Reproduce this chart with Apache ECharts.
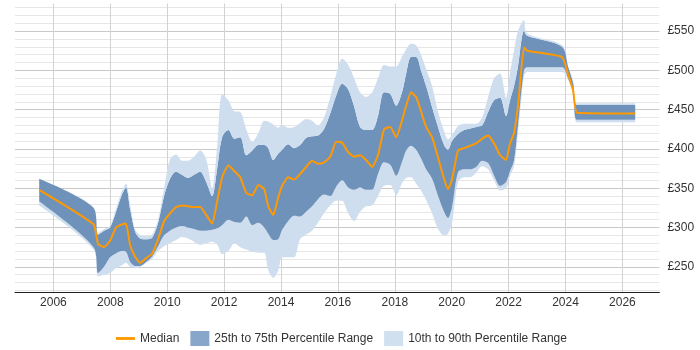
<!DOCTYPE html>
<html>
<head>
<meta charset="utf-8">
<script src="https://cdn.jsdelivr.net/npm/echarts@6/dist/echarts.min.js"></script>
<style>
  html, body { margin: 0; padding: 0; background: #fff; }
  #chart { width: 700px; height: 350px; }
</style>
</head>
<body>
<div id="chart"></div>
<script>
// sample dates (decimal years) and percentile values
const years = [2005.50, 2007.41, 2007.57, 2007.78, 2007.99, 2008.20, 2008.41, 2008.55, 2008.70, 2008.87,
  2009.05, 2009.26, 2009.47, 2009.68, 2009.89, 2010.10, 2010.31, 2010.52, 2010.73, 2010.94,
  2011.16, 2011.37, 2011.58, 2011.76, 2011.93, 2012.15, 2012.36, 2012.57, 2012.78, 2012.99,
  2013.20, 2013.41, 2013.55, 2013.73, 2013.90, 2014.04, 2014.25, 2014.46, 2014.67, 2014.88,
  2015.09, 2015.30, 2015.51, 2015.73, 2015.94, 2016.15, 2016.36, 2016.57, 2016.78, 2016.99,
  2017.20, 2017.41, 2017.62, 2017.84, 2018.05, 2018.26, 2018.40, 2018.57, 2018.75, 2018.92,
  2019.10, 2019.31, 2019.52, 2019.73, 2019.87, 2020.01, 2020.22, 2020.44, 2020.65, 2020.86,
  2021.07, 2021.28, 2021.49, 2021.70, 2021.91, 2022.05, 2022.19, 2022.33, 2022.54, 2022.65,
  2023.88, 2024.09, 2024.27, 2024.41, 2026.45]

const median = [348, 304, 279, 275, 283, 300, 304, 305, 277, 263,
  255, 261, 267, 285, 308, 318, 326, 328, 327, 326,
  326, 316, 305, 334, 364, 379, 372, 364, 344, 341,
  354, 349, 327, 316, 338, 353, 364, 361, 368, 377,
  385, 381, 383, 390, 409, 408, 396, 390, 392, 386,
  377, 392, 425, 428, 415, 437, 455, 472, 466, 448,
  428, 415, 389, 362, 349, 361, 398, 401, 404, 407,
  413, 417, 407, 392, 386, 407, 420, 455, 529, 525,
  517, 495, 474, 446, 445]

const p10 = [328, 272, 238, 240, 242, 248, 252, 255, 250, 248,
  250, 255, 260, 270, 276, 280, 284, 288, 286, 282,
  278, 280, 282, 278, 266, 270, 280, 275, 272, 269,
  268, 268, 246, 236, 245, 262, 262, 262, 285, 291,
  296, 306, 318, 328, 334, 334, 318, 308, 320, 327,
  328, 340, 353, 354, 341, 357, 363, 364, 356, 347,
  335, 318, 298, 290, 292, 305, 358, 364, 364, 370,
  378, 374, 360, 347, 350, 366, 378, 420, 493, 498,
  498, 488, 469, 434, 434]

const p25 = [333, 275, 242, 250, 262, 267, 270, 269, 256, 251,
  251, 256, 263, 276, 290, 296, 300, 302, 300, 298,
  296, 296, 297, 299, 303, 310, 307, 306, 314, 303,
  306, 300, 292, 284, 285, 297, 308, 315, 314, 320,
  327, 336, 342, 340, 352, 360, 351, 348, 351, 348,
  348, 368, 383, 380, 366, 384, 398, 404, 399, 388,
  374, 362, 340, 320, 312, 326, 370, 374, 374, 377,
  385, 382, 366, 353, 358, 372, 385, 430, 500, 504,
  504, 490, 471, 437, 437]

const p75 = [362, 325, 291, 296, 300, 320, 342, 351, 323, 295,
  286, 285, 287, 306, 340, 362, 371, 367, 363, 367,
  371, 358, 340, 376, 415, 424, 413, 415, 392, 398,
  405, 405, 401, 386, 394, 399, 406, 401, 405, 414,
  416, 417, 425, 445, 468, 483, 476, 454, 428, 424,
  424, 442, 472, 470, 455, 473, 496, 517, 517, 500,
  480, 453, 428, 405, 399, 410, 419, 424, 426, 428,
  430, 447, 462, 465, 442, 462, 480, 505, 550, 544,
  530, 505, 484, 456, 456]

const p90 = [362, 325, 293, 298, 302, 324, 346, 356, 328, 298,
  290, 289, 291, 310, 350, 387, 393, 385, 385, 390,
  398, 387, 350, 405, 470, 462, 448, 447, 425, 409,
  420, 436, 435, 431, 427, 430, 427, 428, 433, 438,
  436, 430, 440, 466, 495, 515, 507, 490, 472, 466,
  472, 490, 507, 505, 505, 518, 527, 534, 532, 520,
  502, 480, 447, 423, 412, 418, 429, 432, 432, 432,
  440, 466, 490, 496, 465, 497, 525, 550, 564, 547,
  532, 505, 484, 458, 458]

const xTickYears = [2006, 2008, 2010, 2012, 2014, 2016, 2018, 2020, 2022, 2024, 2026]
const yTickValues = [250, 300, 350, 400, 450, 500, 550]
const yGridValues = [220, 230, 240, 250, 260, 270, 280, 290, 300, 310, 320, 330, 340, 350, 360,
  370, 380, 390, 400, 410, 420, 430, 440, 450, 460, 470, 480, 490, 500, 510, 520, 530, 540,
  550, 560, 570, 580]

const FONT = '"Liberation Sans", Arial, sans-serif'
const ORANGE = '#ff9900'
const DARK = '#6f92bb'
const LIGHT = '#cfdeee'

// rows are [value, year] so the stacked dimension is the value, not the year
const rows = vals => vals.map((v, i) => [v, years[i]])
const diffs = (hi, lo) => hi.map((v, i) => [v - lo[i], years[i]])

const bandSeries = (name, data, color) => ({
  name,
  type: 'line',
  stack: 'band',
  stackStrategy: 'all',
  data,
  encode: { x: 1, y: 0 },
  symbol: 'none',
  smooth: 0.3,
  silent: true,
  lineStyle: { width: 0, opacity: 0 },
  areaStyle: color ? { color, opacity: 1 } : undefined,
  emphasis: { disabled: true },
  z: 2
})

const chart = echarts.init(document.getElementById('chart'), null, { renderer: 'canvas' })

chart.setOption({
  animation: false,
  backgroundColor: '#fff',
  grid: { left: 15, right: 40.6, top: 3.6, bottom: 57.3, containLabel: false, outerBoundsMode: 'none' },
  legend: {
    left: 111,
    top: 326,
    itemWidth: 19,
    itemHeight: 15,
    itemGap: 11,
    selectedMode: false,
    textStyle: { fontSize: 12, color: '#333', fontFamily: FONT },
    data: [
      { name: 'Median', icon: 'path://M0 0H20V3H0Z', itemStyle: { color: ORANGE } },
      { name: '25th to 75th Percentile Range', icon: 'rect', itemStyle: { color: '#88a6c9' } },
      { name: '10th to 90th Percentile Range', icon: 'rect', itemStyle: { color: '#d0e0ef' } }
    ]
  },
  xAxis: {
    type: 'value',
    min: 2004.65,
    max: 2027.3,
    axisLine: { show: true, lineStyle: { color: '#222', width: 1 } },
    axisTick: { show: false, customValues: xTickYears },
    axisLabel: {
      customValues: xTickYears,
      formatter: v => String(v),
      color: '#333',
      fontSize: 12,
      fontFamily: FONT,
      margin: 4
    },
    splitLine: { show: true, lineStyle: { color: '#d2d2d2', width: 1 } }
  },
  yAxis: {
    type: 'value',
    position: 'right',
    min: 217,
    max: 585,
    axisLine: { show: false },
    axisTick: { show: false, customValues: yGridValues },
    axisLabel: {
      customValues: yTickValues,
      formatter: '£{value}',
      color: '#333',
      fontSize: 12,
      fontFamily: FONT,
      margin: 8
    },
    splitLine: {
      show: true,
      lineStyle: { color: ['#e6e6e6', '#e6e6e6', '#e6e6e6', '#c8c8c8', '#e6e6e6'], width: 1 }
    }
  },
  series: [
    bandSeries('base', rows(p10), null),
    bandSeries('10th to 90th Percentile Range', diffs(p25, p10), LIGHT),
    bandSeries('25th to 75th Percentile Range', diffs(p75, p25), DARK),
    bandSeries('10th to 90th Percentile Range', diffs(p90, p75), LIGHT),
    {
      name: 'Median',
      type: 'line',
      data: rows(median),
      encode: { x: 1, y: 0 },
      symbol: 'none',
      smooth: 0.15,
      silent: true,
      color: ORANGE,
      lineStyle: { color: ORANGE, width: 2 },
      emphasis: { disabled: true },
      z: 5
    }
  ]
})
</script>
</body>
</html>
